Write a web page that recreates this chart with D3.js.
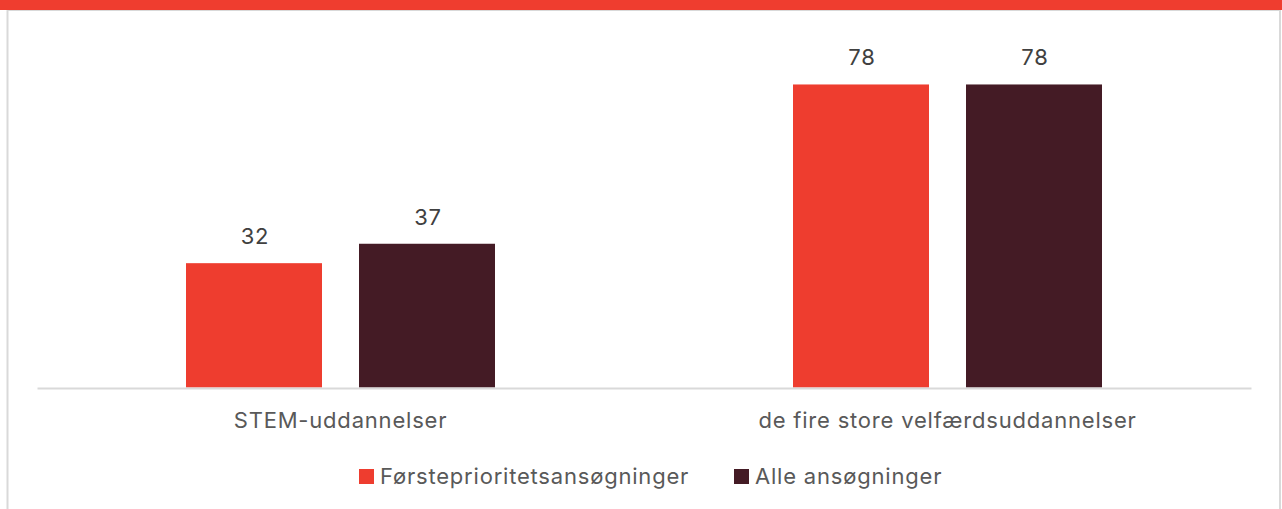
<!DOCTYPE html>
<html>
<head>
<meta charset="utf-8">
<script src="https://cdn.jsdelivr.net/npm/d3@7"></script>
<style>
  html, body { margin: 0; padding: 0; background: #fff; }
  svg { display: block; }
  text { font-family: Inter, "Liberation Sans", Arial, sans-serif; }
</style>
</head>
<body>
<svg id="chart" width="1282" height="509"></svg>
<script>
const categories = ["STEM-uddannelser", "de fire store velfærdsuddannelser"];
const seriesNames = ["Førsteprioritetsansøgninger", "Alle ansøgninger"];
const firstPriority = [32, 78];
const allApplications = [37, 78];
const seriesColors = ["#EE3D2F", "#441B25"];

const W = 1282, H = 509;
const svg = d3.select("#chart");

// frame
svg.append("rect").attr("x", 0).attr("y", 0).attr("width", W).attr("height", 10).attr("fill", "#EF3D2F");
svg.append("line").attr("x1", 7).attr("x2", 1280).attr("y1", 10.5).attr("y2", 10.5).attr("stroke", "#d9d9d9").attr("stroke-width", 1);
svg.append("line").attr("x1", 7.5).attr("x2", 7.5).attr("y1", 10).attr("y2", H).attr("stroke", "#d9d9d9").attr("stroke-width", 2);
svg.append("line").attr("x1", 1280).attr("x2", 1280).attr("y1", 10).attr("y2", H).attr("stroke", "#d9d9d9").attr("stroke-width", 2);

const left = 37, right = 1251, base = 387.5;
const x0 = d3.scaleBand().domain(categories).range([left, right]).paddingInner(0).paddingOuter(0);
const x1 = d3.scaleBand().domain(seriesNames).range([149, 607 - 149]).paddingInner(37 / 309 * 2 / (1 + 37/309)).paddingOuter(0);
const y = d3.scaleLinear().domain([0, 100]).range([base, base - 388.5]);

const data = categories.map((c, i) => ({
  cat: c,
  vals: [
    { s: seriesNames[0], v: firstPriority[i], c: seriesColors[0] },
    { s: seriesNames[1], v: allApplications[i], c: seriesColors[1] }
  ]
}));

const groups = svg.append("g").selectAll("g").data(data).join("g")
  .attr("transform", d => `translate(${x0(d.cat)},0)`);

groups.selectAll("rect").data(d => d.vals).join("rect")
  .attr("x", d => x1(d.s))
  .attr("width", x1.bandwidth())
  .attr("y", d => y(d.v))
  .attr("height", d => base - y(d.v))
  .attr("fill", d => d.c);

groups.selectAll("text.val").data(d => d.vals).join("text")
  .attr("class", "val")
  .attr("x", d => x1(d.s) + x1.bandwidth() / 2 + 1)
  .attr("y", d => y(d.v) - 19)
  .attr("text-anchor", "middle")
  .attr("font-size", 22)
  .attr("letter-spacing", "0.8px")
  .attr("fill", "#404040")
  .text(d => d.v);

// baseline axis
const xAxis = svg.append("g").attr("transform", `translate(0,${base + 0.5})`)
  .call(d3.axisBottom(x0).tickSize(0).tickPadding(0));
xAxis.select(".domain").attr("stroke", "#d9d9d9").attr("stroke-width", 2);
xAxis.selectAll(".tick text")
  .attr("y", 40)
  .attr("dy", 0)
  .attr("font-size", 22)
  .attr("letter-spacing", "0.8px")
  .attr("font-family", "Inter, Liberation Sans, Arial, sans-serif")
  .attr("fill", "#595959");

// legend
const legendItems = [
  { name: seriesNames[0], color: seriesColors[0], x: 359 },
  { name: seriesNames[1], color: seriesColors[1], x: 734 }
];
const lg = svg.append("g").selectAll("g").data(legendItems).join("g")
  .attr("transform", d => `translate(${d.x},0)`);
lg.append("rect").attr("x", 0).attr("y", 469).attr("width", 15).attr("height", 15).attr("fill", d => d.color);
lg.append("text").attr("x", 21).attr("y", 484)
  .attr("font-size", 22)
  .attr("letter-spacing", "0.8px")
  .attr("fill", "#595959")
  .text(d => d.name);
</script>
</body>
</html>
